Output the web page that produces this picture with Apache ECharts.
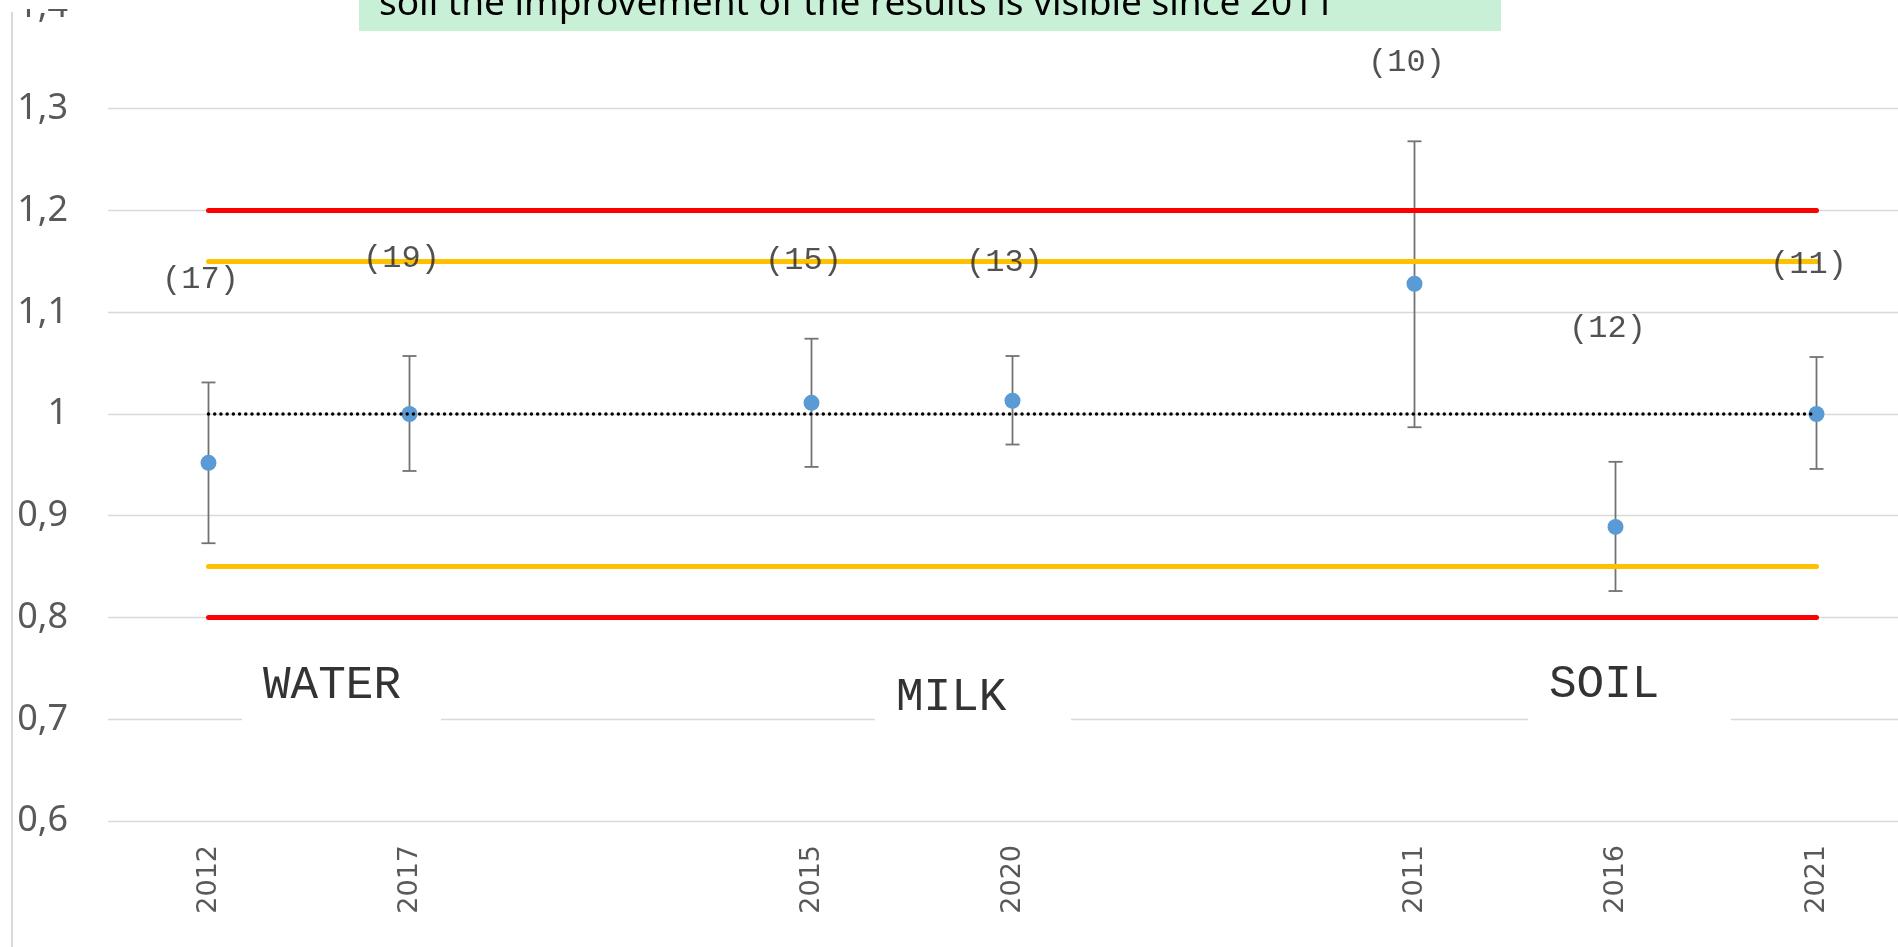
<!DOCTYPE html>
<html>
<head>
<meta charset="utf-8">
<script src="https://cdn.jsdelivr.net/npm/echarts@6/dist/echarts.min.js"></script>
<style>
  html, body { margin: 0; padding: 0; background: #fff; }
  #chart { width: 1898px; height: 947px; }
</style>
</head>
<body>
<div id="chart"></div>
<script>
// categories (blank slots are gaps between the sample groups)
const categories = ["2012", "2017", "", "2015", "2020", "", "2011", "2016", "2021"];
const means = [0.952, 1.0, null, 1.011, 1.013, null, 1.128, 0.889, 1.0];
const upper = [1.031, 1.057, null, 1.074, 1.057, null, 1.268, 0.953, 1.056];
const lower = [0.873, 0.944, null, 0.948, 0.970, null, 0.987, 0.826, 0.946];
const counts = ["(17)", "(19)", null, "(15)", "(13)", null, "(10)", "(12)", "(11)"];
const countY = [1.132, 1.153, null, 1.151, 1.149, null, 1.345, 1.084, 1.147];
const redLimits = [0.8, 1.2];
const yellowLimits = [0.85, 1.15];
const reference = 1.0;
const groups = ["WATER", "MILK", "SOIL"];
const note = "soil the improvement of the results is visible since 2011";

const chart = echarts.init(document.getElementById("chart"));

const idx = means.map((v, i) => i).filter((i) => means[i] !== null);
const first = 0;
const last = categories.length - 1;

function limitLine(v, color, type, width) {
    return [
        { coord: [first, v], lineStyle: { color: color, width: width, type: type, cap: "round" } },
        { coord: [last, v] },
    ];
}

// fit the note text to the width it takes in the picture
const ctx = document.createElement("canvas").getContext("2d");
ctx.font = "100px 'Noto Sans'";
const noteSize = Math.round((953 / ctx.measureText(note).width) * 100);

const groupBoxes = [
    { x: 242, w: 199, cy: 686 },
    { x: 875, w: 196, cy: 698 },
    { x: 1528, w: 203, cy: 685 },
];

const graphics = [
    { type: "rect", z: 100, shape: { x: 0, y: 0, width: 1898, height: 9 }, style: { fill: "#fff" } },
    { type: "line", z: 100, shape: { x1: 12, y1: 12, x2: 12, y2: 947 }, style: { stroke: "#d9d9d9", lineWidth: 2 } },
    { type: "rect", z: 101, shape: { x: 359, y: 0, width: 1142, height: 31 }, style: { fill: "#c8f0d7" } },
    {
        type: "text", z: 102, x: 379, y: 4,
        style: { text: note, fill: "#000", font: noteSize + "px 'Noto Sans'", verticalAlign: "middle" },
    },
];
groups.forEach((g, i) => {
    const b = groupBoxes[i];
    graphics.push({ type: "rect", z: 100, shape: { x: b.x, y: b.cy - 34, width: b.w, height: 72 }, style: { fill: "#fff" } });
    graphics.push({
        type: "text", z: 101, x: b.x + 21, y: b.cy,
        style: { text: g, fill: "#333", font: "46px 'Liberation Mono'", verticalAlign: "middle" },
    });
});

chart.setOption({
    animation: false,
    grid: { left: 108, top: 7, width: 1809, height: 814, outerBoundsMode: "none", containLabel: false },
    xAxis: {
        type: "category",
        data: categories,
        boundaryGap: true,
        axisLine: { show: false },
        axisTick: { show: false },
        axisLabel: { rotate: 90, margin: 24, color: "#595959", fontSize: 27, fontFamily: "DejaVu Sans", interval: 0 },
        splitLine: { show: false },
    },
    yAxis: {
        type: "value",
        min: 0.6,
        max: 1.4,
        interval: 0.1,
        axisLine: { show: false },
        axisTick: { show: false },
        axisLabel: {
            margin: 40,
            color: "#595959",
            fontSize: 36,
            fontFamily: "Noto Sans",
            formatter: (v) => String(Math.round(v * 10) / 10).replace(".", ","),
        },
        splitLine: { lineStyle: { color: "#d9d9d9", width: 1.3 } },
    },
    graphic: graphics,
    series: [
        {
            type: "custom",
            z: 2,
            silent: true,
            data: idx.map((i) => [i, lower[i], upper[i]]),
            encode: { x: 0, y: [1, 2] },
            renderItem: function (params, api) {
                const x = api.value(0);
                const lo = api.coord([x, api.value(1)]);
                const hi = api.coord([x, api.value(2)]);
                const w = 7;
                const style = { stroke: "#737373", lineWidth: 1.8 };
                return {
                    type: "group",
                    children: [
                        { type: "line", shape: { x1: lo[0], y1: lo[1], x2: hi[0], y2: hi[1] }, style: style },
                        { type: "line", shape: { x1: hi[0] - w, y1: hi[1], x2: hi[0] + w, y2: hi[1] }, style: style },
                        { type: "line", shape: { x1: lo[0] - w, y1: lo[1], x2: lo[0] + w, y2: lo[1] }, style: style },
                    ],
                };
            },
        },
        {
            type: "line",
            z: 3,
            data: [],
            markLine: {
                silent: true,
                symbol: ["none", "none"],
                label: { show: false },
                data: [
                    limitLine(reference, "#000", [0.01, 6.2], 3.5),
                    limitLine(redLimits[0], "#ff0000", "solid", 5),
                    limitLine(redLimits[1], "#ff0000", "solid", 5),
                    limitLine(yellowLimits[0], "#ffc000", "solid", 5),
                    limitLine(yellowLimits[1], "#ffc000", "solid", 5),
                ],
            },
        },
        {
            type: "scatter",
            z: 4,
            symbolSize: 16,
            itemStyle: { color: "#5b9bd5", opacity: 1 },
            data: idx.map((i) => [i, means[i]]),
        },
        {
            type: "scatter",
            z: 5,
            symbolSize: 0,
            silent: true,
            data: idx.map((i) => [i, countY[i], counts[i]]),
            label: {
                show: true,
                position: "inside",
                offset: [-8, 0],
                formatter: (p) => p.value[2],
                fontFamily: "Liberation Mono",
                fontSize: 32,
                color: "#262626",
            },
        },
    ],
});
</script>
</body>
</html>
